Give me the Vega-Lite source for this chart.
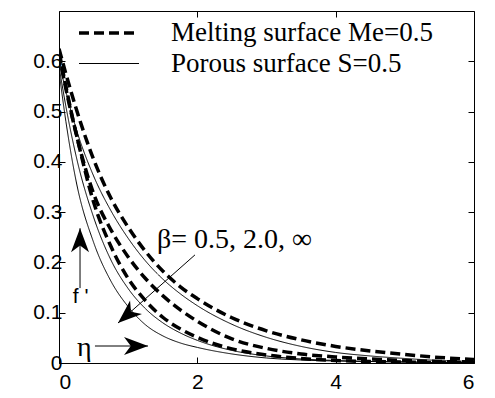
{
  "$schema": "https://vega.github.io/schema/vega-lite/v6.json",
  "width": 415,
  "height": 352,
  "autosize": "none",
  "padding": {"left": 59, "top": 11, "right": 21, "bottom": 35},
  "background": "white",
  "config": {
    "view": {"stroke": "black", "strokeWidth": 1},
    "axis": {
      "domain": false,
      "grid": false,
      "tickColor": "black",
      "tickSize": -6,
      "tickWidth": 1,
      "labelFont": "Liberation Sans",
      "labelFontSize": 21,
      "labelColor": "black",
      "title": null
    }
  },
  "datasets": {
    "curves": [
      {"eta": 0, "fp": 0.625, "curve": "D1", "surface": "Melting surface Me=0.5"},
      {"eta": 0.1, "fp": 0.575, "curve": "D1", "surface": "Melting surface Me=0.5"},
      {"eta": 0.25, "fp": 0.505, "curve": "D1", "surface": "Melting surface Me=0.5"},
      {"eta": 0.5, "fp": 0.405, "curve": "D1", "surface": "Melting surface Me=0.5"},
      {"eta": 0.75, "fp": 0.328, "curve": "D1", "surface": "Melting surface Me=0.5"},
      {"eta": 1, "fp": 0.27, "curve": "D1", "surface": "Melting surface Me=0.5"},
      {"eta": 1.25, "fp": 0.222, "curve": "D1", "surface": "Melting surface Me=0.5"},
      {"eta": 1.5, "fp": 0.183, "curve": "D1", "surface": "Melting surface Me=0.5"},
      {"eta": 1.75, "fp": 0.152, "curve": "D1", "surface": "Melting surface Me=0.5"},
      {"eta": 2, "fp": 0.128, "curve": "D1", "surface": "Melting surface Me=0.5"},
      {"eta": 2.5, "fp": 0.09, "curve": "D1", "surface": "Melting surface Me=0.5"},
      {"eta": 3, "fp": 0.064, "curve": "D1", "surface": "Melting surface Me=0.5"},
      {"eta": 3.5, "fp": 0.046, "curve": "D1", "surface": "Melting surface Me=0.5"},
      {"eta": 4, "fp": 0.033, "curve": "D1", "surface": "Melting surface Me=0.5"},
      {"eta": 4.5, "fp": 0.024, "curve": "D1", "surface": "Melting surface Me=0.5"},
      {"eta": 5, "fp": 0.017, "curve": "D1", "surface": "Melting surface Me=0.5"},
      {"eta": 5.5, "fp": 0.011, "curve": "D1", "surface": "Melting surface Me=0.5"},
      {"eta": 6, "fp": 0.007, "curve": "D1", "surface": "Melting surface Me=0.5"},

      {"eta": 0, "fp": 0.62, "curve": "D2", "surface": "Melting surface Me=0.5"},
      {"eta": 0.1, "fp": 0.55, "curve": "D2", "surface": "Melting surface Me=0.5"},
      {"eta": 0.25, "fp": 0.455, "curve": "D2", "surface": "Melting surface Me=0.5"},
      {"eta": 0.5, "fp": 0.337, "curve": "D2", "surface": "Melting surface Me=0.5"},
      {"eta": 0.75, "fp": 0.265, "curve": "D2", "surface": "Melting surface Me=0.5"},
      {"eta": 1, "fp": 0.211, "curve": "D2", "surface": "Melting surface Me=0.5"},
      {"eta": 1.25, "fp": 0.168, "curve": "D2", "surface": "Melting surface Me=0.5"},
      {"eta": 1.5, "fp": 0.134, "curve": "D2", "surface": "Melting surface Me=0.5"},
      {"eta": 1.75, "fp": 0.106, "curve": "D2", "surface": "Melting surface Me=0.5"},
      {"eta": 2, "fp": 0.083, "curve": "D2", "surface": "Melting surface Me=0.5"},
      {"eta": 2.5, "fp": 0.048, "curve": "D2", "surface": "Melting surface Me=0.5"},
      {"eta": 3, "fp": 0.029, "curve": "D2", "surface": "Melting surface Me=0.5"},
      {"eta": 3.5, "fp": 0.018, "curve": "D2", "surface": "Melting surface Me=0.5"},
      {"eta": 4, "fp": 0.012, "curve": "D2", "surface": "Melting surface Me=0.5"},
      {"eta": 4.5, "fp": 0.008, "curve": "D2", "surface": "Melting surface Me=0.5"},
      {"eta": 5, "fp": 0.005, "curve": "D2", "surface": "Melting surface Me=0.5"},
      {"eta": 5.5, "fp": 0.003, "curve": "D2", "surface": "Melting surface Me=0.5"},
      {"eta": 6, "fp": 0.002, "curve": "D2", "surface": "Melting surface Me=0.5"},

      {"eta": 0, "fp": 0.615, "curve": "D3", "surface": "Melting surface Me=0.5"},
      {"eta": 0.1, "fp": 0.545, "curve": "D3", "surface": "Melting surface Me=0.5"},
      {"eta": 0.25, "fp": 0.455, "curve": "D3", "surface": "Melting surface Me=0.5"},
      {"eta": 0.5, "fp": 0.32, "curve": "D3", "surface": "Melting surface Me=0.5"},
      {"eta": 0.75, "fp": 0.232, "curve": "D3", "surface": "Melting surface Me=0.5"},
      {"eta": 1, "fp": 0.168, "curve": "D3", "surface": "Melting surface Me=0.5"},
      {"eta": 1.25, "fp": 0.124, "curve": "D3", "surface": "Melting surface Me=0.5"},
      {"eta": 1.5, "fp": 0.091, "curve": "D3", "surface": "Melting surface Me=0.5"},
      {"eta": 1.75, "fp": 0.068, "curve": "D3", "surface": "Melting surface Me=0.5"},
      {"eta": 2, "fp": 0.051, "curve": "D3", "surface": "Melting surface Me=0.5"},
      {"eta": 2.5, "fp": 0.028, "curve": "D3", "surface": "Melting surface Me=0.5"},
      {"eta": 3, "fp": 0.016, "curve": "D3", "surface": "Melting surface Me=0.5"},
      {"eta": 3.5, "fp": 0.009, "curve": "D3", "surface": "Melting surface Me=0.5"},
      {"eta": 4, "fp": 0.005, "curve": "D3", "surface": "Melting surface Me=0.5"},
      {"eta": 4.5, "fp": 0.003, "curve": "D3", "surface": "Melting surface Me=0.5"},
      {"eta": 5, "fp": 0.002, "curve": "D3", "surface": "Melting surface Me=0.5"},
      {"eta": 5.5, "fp": 0.001, "curve": "D3", "surface": "Melting surface Me=0.5"},
      {"eta": 6, "fp": 0.001, "curve": "D3", "surface": "Melting surface Me=0.5"},

      {"eta": 0, "fp": 0.6, "curve": "T1", "surface": "Porous surface S=0.5"},
      {"eta": 0.1, "fp": 0.54, "curve": "T1", "surface": "Porous surface S=0.5"},
      {"eta": 0.25, "fp": 0.465, "curve": "T1", "surface": "Porous surface S=0.5"},
      {"eta": 0.5, "fp": 0.372, "curve": "T1", "surface": "Porous surface S=0.5"},
      {"eta": 0.75, "fp": 0.303, "curve": "T1", "surface": "Porous surface S=0.5"},
      {"eta": 1, "fp": 0.248, "curve": "T1", "surface": "Porous surface S=0.5"},
      {"eta": 1.25, "fp": 0.203, "curve": "T1", "surface": "Porous surface S=0.5"},
      {"eta": 1.5, "fp": 0.167, "curve": "T1", "surface": "Porous surface S=0.5"},
      {"eta": 1.75, "fp": 0.138, "curve": "T1", "surface": "Porous surface S=0.5"},
      {"eta": 2, "fp": 0.114, "curve": "T1", "surface": "Porous surface S=0.5"},
      {"eta": 2.5, "fp": 0.077, "curve": "T1", "surface": "Porous surface S=0.5"},
      {"eta": 3, "fp": 0.051, "curve": "T1", "surface": "Porous surface S=0.5"},
      {"eta": 3.5, "fp": 0.033, "curve": "T1", "surface": "Porous surface S=0.5"},
      {"eta": 4, "fp": 0.021, "curve": "T1", "surface": "Porous surface S=0.5"},
      {"eta": 4.5, "fp": 0.014, "curve": "T1", "surface": "Porous surface S=0.5"},
      {"eta": 5, "fp": 0.009, "curve": "T1", "surface": "Porous surface S=0.5"},
      {"eta": 5.5, "fp": 0.005, "curve": "T1", "surface": "Porous surface S=0.5"},
      {"eta": 6, "fp": 0.003, "curve": "T1", "surface": "Porous surface S=0.5"},

      {"eta": 0, "fp": 0.59, "curve": "T2", "surface": "Porous surface S=0.5"},
      {"eta": 0.1, "fp": 0.51, "curve": "T2", "surface": "Porous surface S=0.5"},
      {"eta": 0.25, "fp": 0.41, "curve": "T2", "surface": "Porous surface S=0.5"},
      {"eta": 0.5, "fp": 0.29, "curve": "T2", "surface": "Porous surface S=0.5"},
      {"eta": 0.75, "fp": 0.205, "curve": "T2", "surface": "Porous surface S=0.5"},
      {"eta": 1, "fp": 0.148, "curve": "T2", "surface": "Porous surface S=0.5"},
      {"eta": 1.25, "fp": 0.108, "curve": "T2", "surface": "Porous surface S=0.5"},
      {"eta": 1.5, "fp": 0.08, "curve": "T2", "surface": "Porous surface S=0.5"},
      {"eta": 1.75, "fp": 0.06, "curve": "T2", "surface": "Porous surface S=0.5"},
      {"eta": 2, "fp": 0.045, "curve": "T2", "surface": "Porous surface S=0.5"},
      {"eta": 2.5, "fp": 0.025, "curve": "T2", "surface": "Porous surface S=0.5"},
      {"eta": 3, "fp": 0.014, "curve": "T2", "surface": "Porous surface S=0.5"},
      {"eta": 3.5, "fp": 0.008, "curve": "T2", "surface": "Porous surface S=0.5"},
      {"eta": 4, "fp": 0.005, "curve": "T2", "surface": "Porous surface S=0.5"},
      {"eta": 4.5, "fp": 0.003, "curve": "T2", "surface": "Porous surface S=0.5"},
      {"eta": 5, "fp": 0.002, "curve": "T2", "surface": "Porous surface S=0.5"},
      {"eta": 5.5, "fp": 0.001, "curve": "T2", "surface": "Porous surface S=0.5"},
      {"eta": 6, "fp": 0.001, "curve": "T2", "surface": "Porous surface S=0.5"},

      {"eta": 0, "fp": 0.58, "curve": "T3", "surface": "Porous surface S=0.5"},
      {"eta": 0.1, "fp": 0.48, "curve": "T3", "surface": "Porous surface S=0.5"},
      {"eta": 0.25, "fp": 0.36, "curve": "T3", "surface": "Porous surface S=0.5"},
      {"eta": 0.5, "fp": 0.24, "curve": "T3", "surface": "Porous surface S=0.5"},
      {"eta": 0.75, "fp": 0.163, "curve": "T3", "surface": "Porous surface S=0.5"},
      {"eta": 1, "fp": 0.112, "curve": "T3", "surface": "Porous surface S=0.5"},
      {"eta": 1.25, "fp": 0.076, "curve": "T3", "surface": "Porous surface S=0.5"},
      {"eta": 1.5, "fp": 0.054, "curve": "T3", "surface": "Porous surface S=0.5"},
      {"eta": 1.75, "fp": 0.04, "curve": "T3", "surface": "Porous surface S=0.5"},
      {"eta": 2, "fp": 0.031, "curve": "T3", "surface": "Porous surface S=0.5"},
      {"eta": 2.5, "fp": 0.018, "curve": "T3", "surface": "Porous surface S=0.5"},
      {"eta": 3, "fp": 0.01, "curve": "T3", "surface": "Porous surface S=0.5"},
      {"eta": 3.5, "fp": 0.006, "curve": "T3", "surface": "Porous surface S=0.5"},
      {"eta": 4, "fp": 0.004, "curve": "T3", "surface": "Porous surface S=0.5"},
      {"eta": 4.5, "fp": 0.003, "curve": "T3", "surface": "Porous surface S=0.5"},
      {"eta": 5, "fp": 0.002, "curve": "T3", "surface": "Porous surface S=0.5"},
      {"eta": 5.5, "fp": 0.001, "curve": "T3", "surface": "Porous surface S=0.5"},
      {"eta": 6, "fp": 0.001, "curve": "T3", "surface": "Porous surface S=0.5"}
    ],
    "arrows": [
      {"name": "beta", "x": 1.966, "y": 0.215, "x2": 0.853, "y2": 0.0795},
      {"name": "f", "x": 0.304, "y": 0.149, "x2": 0.304, "y2": 0.268},
      {"name": "eta", "x": 0.52, "y": 0.0338, "x2": 1.287, "y2": 0.0338}
    ],
    "labels": [
      {"name": "beta", "x": 1.417, "y": 0.229, "text": "β= 0.5, 2.0, ∞"},
      {"name": "f", "x": 0.2, "y": 0.119, "text": "f '"},
      {"name": "eta", "x": 0.26, "y": 0.014, "text": "η"}
    ]
  },
  "layer": [
    {
      "layer": [
        {
          "data": {"name": "curves"},
          "mark": {"type": "line", "interpolate": "monotone", "color": "black", "clip": true},
          "encoding": {
            "x": {
              "field": "eta", "type": "quantitative",
              "scale": {"domain": [0, 6], "nice": false, "zero": false},
              "axis": {"orient": "bottom", "values": [0, 2, 4, 6], "format": "~g", "labelPadding": 14, "title": null}
            },
            "y": {
              "field": "fp", "type": "quantitative",
              "scale": {"domain": [0, 0.7], "nice": false},
              "axis": {"orient": "left", "values": [0, 0.1, 0.2, 0.3, 0.4, 0.5, 0.6], "format": "~g", "labelPadding": 3, "title": null}
            },
            "detail": {"field": "curve"},
            "strokeDash": {
              "field": "surface", "type": "nominal",
              "scale": {"domain": ["Melting surface Me=0.5", "Porous surface S=0.5"], "range": [[10, 5], [1, 0]]},
              "legend": {
                "orient": "none", "legendX": 33, "legendY": 5, "title": null,
                "symbolType": "M-2,0L2,0", "symbolSize": 900, "symbolStrokeColor": "black", "symbolFillColor": "transparent",
                "labelFont": "Liberation Serif", "labelFontSize": 27, "labelColor": "black",
                "labelLimit": 500, "labelOffset": 45, "rowPadding": 2, "padding": 0
              }
            },
            "strokeWidth": {
              "field": "surface", "type": "nominal",
              "scale": {"domain": ["Melting surface Me=0.5", "Porous surface S=0.5"], "range": [3.5, 1]},
              "legend": {
                "orient": "none", "legendX": 33, "legendY": 5, "title": null,
                "symbolType": "M-2,0L2,0", "symbolSize": 900, "symbolStrokeColor": "black", "symbolFillColor": "transparent",
                "labelFont": "Liberation Serif", "labelFontSize": 27, "labelColor": "black",
                "labelLimit": 500, "labelOffset": 45, "rowPadding": 2, "padding": 0
              }
            }
          }
        },
        {
          "data": {"name": "arrows"},
          "transform": [{"filter": "datum.name == 'beta'"}],
          "mark": {"type": "point", "shape": "M0,0L0.6,1.6L0,1.15L-0.6,1.6Z", "filled": true, "color": "black", "opacity": 1, "size": 900, "angle": 228.65},
          "encoding": {
            "x": {"field": "x2", "type": "quantitative"},
            "y": {"field": "y2", "type": "quantitative"}
          }
        },
        {
          "data": {"name": "arrows"},
          "transform": [{"filter": "datum.name == 'f'"}],
          "mark": {"type": "point", "shape": "M0,0L0.6,1.6L0,1.15L-0.6,1.6Z", "filled": true, "color": "black", "opacity": 1, "size": 900, "angle": 0},
          "encoding": {
            "x": {"field": "x2", "type": "quantitative"},
            "y": {"field": "y2", "type": "quantitative"}
          }
        },
        {
          "data": {"name": "arrows"},
          "transform": [{"filter": "datum.name == 'eta'"}],
          "mark": {"type": "point", "shape": "M0,0L0.6,1.6L0,1.15L-0.6,1.6Z", "filled": true, "color": "black", "opacity": 1, "size": 900, "angle": 90},
          "encoding": {
            "x": {"field": "x2", "type": "quantitative"},
            "y": {"field": "y2", "type": "quantitative"}
          }
        },
        {
          "data": {"name": "labels"},
          "transform": [{"filter": "datum.name != 'f'"}],
          "mark": {"type": "text", "align": "left", "baseline": "alphabetic", "font": "Liberation Serif", "fontSize": 28, "color": "black"},
          "encoding": {
            "x": {"field": "x", "type": "quantitative"},
            "y": {"field": "y", "type": "quantitative"},
            "text": {"field": "text"}
          }
        },
        {
          "data": {"name": "labels"},
          "transform": [{"filter": "datum.name == 'f'"}],
          "mark": {"type": "text", "align": "left", "baseline": "alphabetic", "font": "Liberation Sans", "fontSize": 21, "color": "black"},
          "encoding": {
            "x": {"field": "x", "type": "quantitative"},
            "y": {"field": "y", "type": "quantitative"},
            "text": {"field": "text"}
          }
        }
      ]
    },
    {
      "data": {"name": "arrows"},
      "mark": {"type": "rule", "color": "black", "strokeWidth": 1},
      "encoding": {
        "x": {
          "field": "x", "type": "quantitative",
          "scale": {"domain": [0, 6], "nice": false, "zero": false},
          "axis": {"orient": "top", "labels": false, "values": [0, 2, 4, 6], "title": null}
        },
        "y": {
          "field": "y", "type": "quantitative",
          "scale": {"domain": [0, 0.7], "nice": false},
          "axis": {"orient": "right", "labels": false, "values": [0, 0.1, 0.2, 0.3, 0.4, 0.5, 0.6], "title": null}
        },
        "x2": {"field": "x2"},
        "y2": {"field": "y2"}
      }
    }
  ],
  "resolve": {"scale": {"x": "independent", "y": "independent"}}
}
